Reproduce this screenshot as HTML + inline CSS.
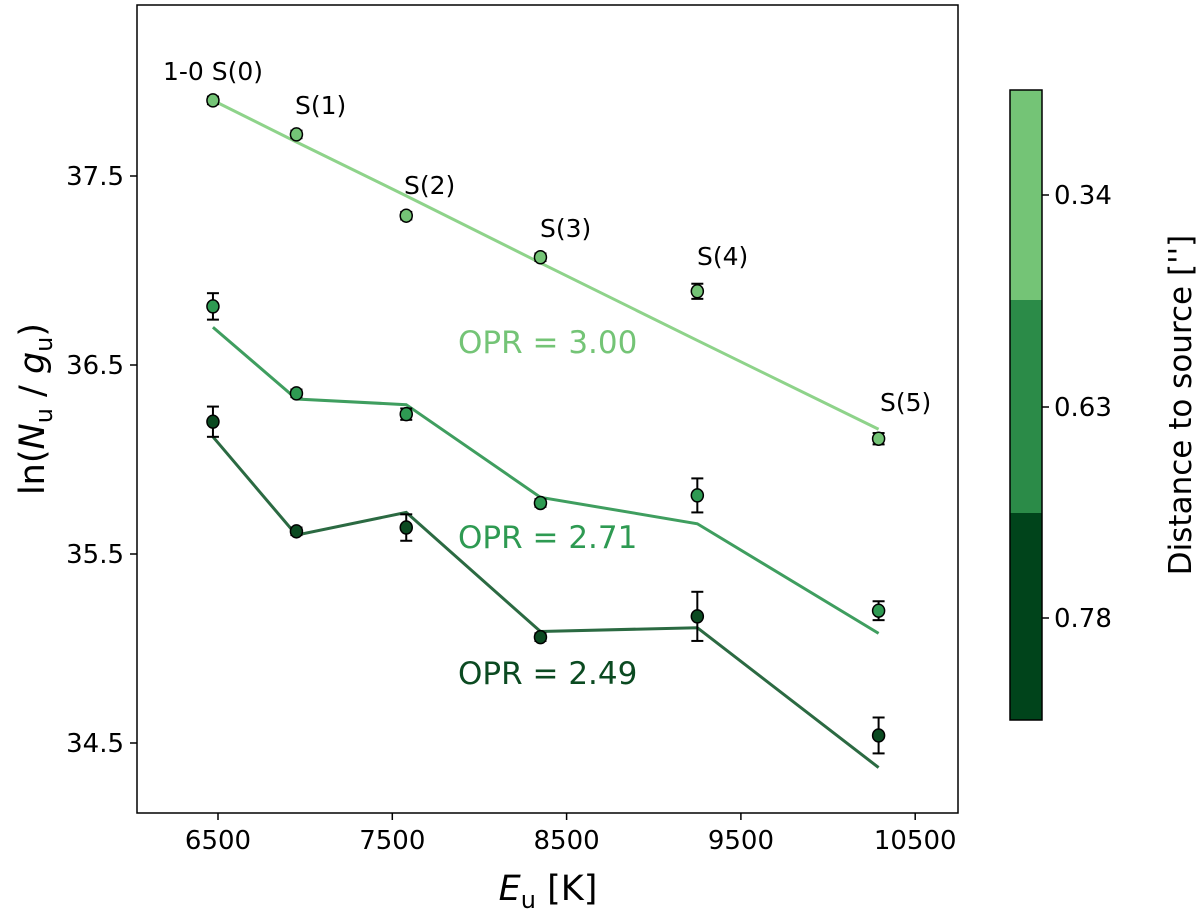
<!DOCTYPE html>
<html><head><meta charset="utf-8"><style>
body{margin:0;background:#fff;}
svg{display:block;font-family:"DejaVu Sans","Liberation Sans",sans-serif;}
</style></head><body>
<svg id="chart" width="1200" height="915" viewBox="0 0 1200 915">
<g id="plot"></g>
<g id="colorbar">
  <rect x="1010" y="90" width="32" height="210" fill="#74c476"/>
  <rect x="1010" y="300" width="32" height="213" fill="#2b8b48"/>
  <rect x="1010" y="513" width="32" height="207" fill="#00441b"/>
  <rect x="1010" y="90" width="32" height="630" fill="none" stroke="#000" stroke-width="1.5"/>
  <line x1="1042" y1="195" x2="1049" y2="195" stroke="#000" stroke-width="1.5"/>
  <line x1="1042" y1="407" x2="1049" y2="407" stroke="#000" stroke-width="1.5"/>
  <line x1="1042" y1="618" x2="1049" y2="618" stroke="#000" stroke-width="1.5"/>
  <text x="1054" y="204" font-size="26">0.34</text>
  <text x="1054" y="416" font-size="26">0.63</text>
  <text x="1054" y="627" font-size="26">0.78</text>
  <text transform="translate(1191,405) rotate(-90)" text-anchor="middle" font-size="31">Distance to source ['']</text>
</g>
</svg>
<script>
const energies=[6471,6950,7580,8350,9250,10290];
const lineLabels=["1-0 S(0)","S(1)","S(2)","S(3)","S(4)","S(5)"];
const xTicks=[6500,7500,8500,9500,10500];
const yTicks=[34.5,35.5,36.5,37.5];
const lightVals=[37.90,37.72,37.29,37.07,36.89,36.11];
const lightErr=[0.02,0.02,0.02,0.02,0.04,0.03];
const lightFit=[37.90,37.68,37.395,37.04,36.63,36.16];
const midVals=[36.81,36.35,36.24,35.77,35.81,35.20];
const midErr=[0.07,0.02,0.03,0.02,0.09,0.05];
const midFit=[36.70,36.32,36.29,35.80,35.66,35.08];
const darkVals=[36.20,35.62,35.64,35.06,35.17,34.54];
const darkErr=[0.08,0.02,0.07,0.02,0.13,0.095];
const darkFit=[36.12,35.60,35.72,35.09,35.11,34.37];

const X=e=>218+(e-6500)*0.1743;
const Y=v=>365-(v-36.5)*189;
const NS="http://www.w3.org/2000/svg";
const g=document.getElementById('plot');
function mk(t,a,p){const el=document.createElementNS(NS,t);for(const k in a)el.setAttribute(k,a[k]);(p||g).appendChild(el);return el;}

const frame=mk('rect',{x:137,y:5,width:821,height:808,fill:'none',stroke:'#000','stroke-width':1.5});


xTicks.forEach(t=>{
  mk('line',{x1:X(t),y1:813,x2:X(t),y2:820,stroke:'#000','stroke-width':1.5});
  const tx=mk('text',{x:X(t),y:849,'text-anchor':'middle','font-size':26});tx.textContent=t;
  
  
});
yTicks.forEach(t=>{
  mk('line',{x1:130,y1:Y(t),x2:137,y2:Y(t),stroke:'#000','stroke-width':1.5});
  const tx=mk('text',{x:124,y:Y(t)+9,'text-anchor':'end','font-size':26});tx.textContent=t.toFixed(1);
  
  
});
const xl=mk('text',{x:548,y:900,'text-anchor':'middle','font-size':35});
xl.innerHTML='<tspan font-style="italic">E</tspan><tspan font-size="24" dy="8">u</tspan><tspan dy="-8"> [K]</tspan>';


const yl=mk('text',{transform:'translate(44,409) rotate(-90)','text-anchor':'middle','font-size':35});
yl.innerHTML='ln(<tspan font-style="italic">N</tspan><tspan font-size="24" dy="8">u</tspan><tspan dy="-8"> / </tspan><tspan font-style="italic">g</tspan><tspan font-size="24" dy="8">u</tspan><tspan dy="-8">)</tspan>';



function series(name,vals,err,fit,fill,lineCol){
  const pts=fit.map((v,i)=>X(energies[i])+','+Y(v)).join(' ');
  const pl=mk('polyline',{points:pts,fill:'none',stroke:lineCol,'stroke-width':3});
  
  
  vals.forEach((v,i)=>{
    const x=X(energies[i]),y1=Y(v+err[i]),y2=Y(v-err[i]);
    mk('line',{x1:x,y1:y1,x2:x,y2:y2,stroke:'#000','stroke-width':2});
    mk('line',{x1:x-6,y1:y1,x2:x+6,y2:y1,stroke:'#000','stroke-width':2});
    mk('line',{x1:x-6,y1:y2,x2:x+6,y2:y2,stroke:'#000','stroke-width':2});
    const c=mk('ellipse',{cx:x,cy:Y(v),rx:6,ry:6.5,fill:fill,stroke:'#000','stroke-width':1.5});
    
    
  });
}
series('opr-3.00',lightVals,lightErr,lightFit,'#74c476','#8ed38a');
series('opr-2.71',midVals,midErr,midFit,'#2e9a52','#3f9e5f');
series('opr-2.49',darkVals,darkErr,darkFit,'#0b4a21','#2b6a42');

const lblPos=[[163,80],[295,114],[404,194],[540,237],[697,265],[880,411]];
lineLabels.forEach((s,i)=>{
  const t=mk('text',{x:lblPos[i][0],y:lblPos[i][1],'font-size':25});t.textContent=s;
  
  
});
[["OPR = 3.00",353,'#74c476'],["OPR = 2.71",548,'#2e9a52'],["OPR = 2.49",684,'#0b4a21']].forEach((o,i)=>{
  const t=mk('text',{x:458,y:o[1],'font-size':31,fill:o[2]});t.textContent=o[0];
  
  
});
</script>
</body></html>
